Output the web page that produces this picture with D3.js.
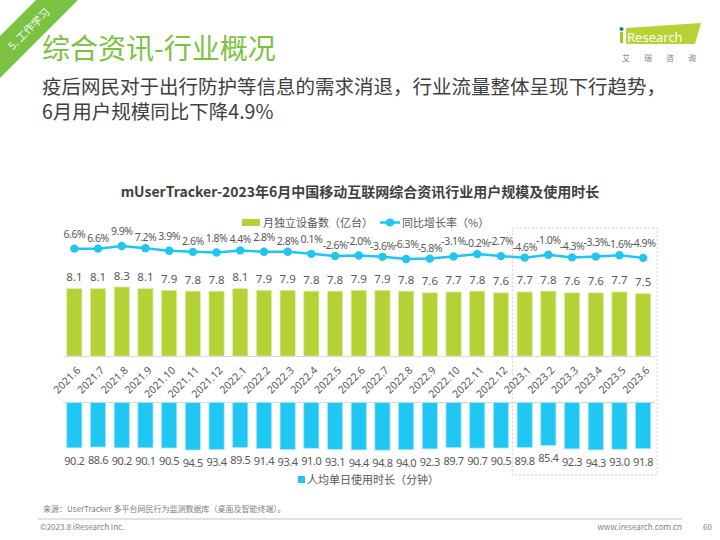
<!DOCTYPE html>
<html><head><meta charset="utf-8">
<script src="https://cdn.jsdelivr.net/npm/d3@7"></script>
<style>
html,body{margin:0;padding:0;background:#fff;}
svg{display:block;font-family:"Noto Sans CJK SC","Noto Sans",sans-serif;}
.num{font-family:"Noto Sans","Open Sans",sans-serif;}
</style></head>
<body><svg id="c" width="720" height="540"></svg>
<script>
const categories = ["2021.6","2021.7","2021.8","2021.9","2021.10","2021.11","2021.12","2022.1","2022.2","2022.3","2022.4","2022.5","2022.6","2022.7","2022.8","2022.9","2022.10","2022.11","2022.12","2023.1","2023.2","2023.3","2023.4","2023.5","2023.6"];
const devices = [8.1,8.1,8.3,8.1,7.9,7.8,7.8,8.1,7.9,7.9,7.8,7.8,7.9,7.9,7.8,7.6,7.7,7.8,7.6,7.7,7.8,7.6,7.6,7.7,7.5];
const growth = [6.6,6.6,9.9,7.2,3.9,2.6,1.8,4.4,2.8,2.8,0.1,-2.6,-2.0,-3.6,-6.3,-5.8,-3.1,-0.2,-2.7,-4.6,-1.0,-4.3,-3.3,-1.6,-4.9];
const duration = [90.2,88.6,90.2,90.1,90.5,94.5,93.4,89.5,91.4,93.4,91.0,93.1,94.4,94.8,94.0,92.3,89.7,90.7,90.5,89.8,85.4,92.3,94.3,93.0,91.8];
const highlight = ["2023.1","2023.6"];

const GREEN = "#b2d235", BLUE = "#1fc7f2", LINE = "#1ec6f0", TXT = "#595959";
const svg = d3.select("#c");

// corner tag
svg.append("polygon").attr("points","36,0 78,0 0,78 0,36").attr("fill","#7cc242");
svg.append("text").attr("transform","translate(29,29) rotate(-45)").attr("text-anchor","middle")
  .attr("dy","0.35em").attr("fill","#fff").attr("font-size",10.5).text("5. 工作学习");

// title + subtitle
svg.append("text").attr("x",42).attr("y",59).attr("fill","#7cc242").attr("font-size",28).text("综合资讯-行业概况");
svg.append("text").attr("x",42).attr("y",94).attr("fill","#404040").attr("font-size",19.5).text("疫后网民对于出行防护等信息的需求消退，行业流量整体呈现下行趋势，");
svg.append("text").attr("x",42).attr("y",119).attr("fill","#404040").attr("font-size",19.5).text("6月用户规模同比下降4.9%");

// logo
svg.append("polygon").attr("points","626,28 701,23 695,44 626,44").attr("fill","#b5d334");
svg.append("circle").attr("cx",621.5).attr("cy",29).attr("r",2).attr("fill","#2a6fb6");
svg.append("rect").attr("x",620).attr("y",32).attr("width",3.2).attr("height",11).attr("fill","#a6c431");
svg.append("text").attr("x",627).attr("y",41.5).attr("fill","#fff").attr("font-size",13).attr("font-family","Noto Sans, sans-serif").text("Research");
svg.append("text").attr("x",622).attr("y",61).attr("fill","#7f7f7f").attr("font-size",8).attr("letter-spacing",14).text("艾瑞咨询");

// chart title
svg.append("text").attr("x",360).attr("y",197).attr("text-anchor","middle").attr("font-weight","bold")
  .attr("fill","#404040").attr("font-size",14).text("mUserTracker-2023年6月中国移动互联网综合资讯行业用户规模及使用时长");

// legends
svg.append("rect").attr("x",242).attr("y",219).attr("width",18).attr("height",7).attr("fill",GREEN);
svg.append("text").attr("x",263).attr("y",226.5).attr("fill",TXT).attr("font-size",11).text("月独立设备数（亿台）");
svg.append("line").attr("x1",380).attr("x2",400).attr("y1",222.5).attr("y2",222.5).attr("stroke",LINE).attr("stroke-width",2.5);
svg.append("circle").attr("cx",390).attr("cy",222.5).attr("r",4).attr("fill",LINE);
svg.append("text").attr("x",402).attr("y",226.5).attr("fill",TXT).attr("font-size",11).text("同比增长率（%）");
svg.append("rect").attr("x",298).attr("y",476).attr("width",7).attr("height",7).attr("fill",BLUE);
svg.append("text").attr("x",307).attr("y",483.5).attr("fill",TXT).attr("font-size",11).text("人均单日使用时长（分钟）");

// scales
const x = d3.scaleBand().domain(categories).range([62.5,655]).paddingInner(0.36).paddingOuter(0.18);
const yG = d3.scaleLinear().domain([0,8.3]).range([356,287]);
const yL = d3.scaleLinear().domain([-6.3,9.9]).range([259,246]);
const yB = d3.scaleLinear().domain([0,94.5]).range([402.5,450]);
const cx = i => x(categories[i]) + x.bandwidth()/2;

// highlight box
const hx0 = x(highlight[0]) - x.step()*x.paddingInner()/2 - 0.5;
const hx1 = x(highlight[1]) + x.bandwidth() + x.step()*x.paddingInner()/2 + 2;
svg.append("rect").attr("x",hx0).attr("y",228).attr("width",hx1-hx0).attr("height",247)
  .attr("fill","none").attr("stroke","#f4bcbc").attr("stroke-width",1).attr("stroke-dasharray","2,2");

// green bars
svg.append("g").selectAll("rect").data(devices).join("rect")
  .attr("x",(d,i)=>x(categories[i])).attr("width",x.bandwidth())
  .attr("y",d=>yG(d)).attr("height",d=>yG(0)-yG(d))
  .attr("fill",GREEN).attr("stroke","#dcebaa").attr("stroke-width",0.8);
svg.append("g").selectAll("text").data(devices).join("text").attr("class","num")
  .attr("x",(d,i)=>cx(i)).attr("y",d=>yG(d)-7.5)
  .attr("text-anchor","middle").attr("fill",TXT).attr("font-size",11.5).text(d=>d.toFixed(1));

// x axis
const xAxis = svg.append("g").attr("transform","translate(0,356)").call(d3.axisBottom(x).tickSize(0).tickPadding(0));
xAxis.select(".domain").attr("stroke","#d9d9d9").attr("stroke-width",1.2);
xAxis.selectAll("text").attr("fill",TXT).attr("font-size",10.5).attr("font-family","Noto Sans, sans-serif")
  .attr("text-anchor","end").attr("dy",null).attr("y",0)
  .attr("transform","translate(7,15) rotate(-45)");

// blue bars
svg.append("line").attr("x1",62.5).attr("x2",655).attr("y1",402.5).attr("y2",402.5).attr("stroke","#d9d9d9").attr("stroke-width",1.2);
svg.append("g").selectAll("rect").data(duration).join("rect")
  .attr("x",(d,i)=>x(categories[i])).attr("width",x.bandwidth())
  .attr("y",yB(0)).attr("height",d=>yB(d)-yB(0))
  .attr("fill",BLUE).attr("stroke","#a9e5f7").attr("stroke-width",0.8);
svg.append("g").selectAll("text").data(duration).join("text").attr("class","num")
  .attr("x",(d,i)=>cx(i)).attr("y",d=>yB(d)+17)
  .attr("text-anchor","middle").attr("fill",TXT).attr("font-size",11).attr("letter-spacing",-0.4).text(d=>d.toFixed(1));

// growth line
const line = d3.line().x((d,i)=>cx(i)).y(d=>yL(d));
svg.append("path").datum(growth).attr("d",line).attr("fill","none").attr("stroke",LINE).attr("stroke-width",2.5);
svg.append("g").selectAll("circle").data(growth).join("circle")
  .attr("cx",(d,i)=>cx(i)).attr("cy",d=>yL(d)).attr("r",4.2).attr("fill",LINE);
svg.append("g").selectAll("text").data(growth).join("text").attr("class","num")
  .attr("x",(d,i)=>cx(i)).attr("y",(d,i)=>yL(d)-(i%2?7:11))
  .attr("text-anchor","middle").attr("fill",TXT).attr("font-size",10.5).attr("letter-spacing",-0.5).text(d=>d.toFixed(1)+"%");

// footer
svg.append("text").attr("x",43).attr("y",512).attr("fill","#7f7f7f").attr("font-size",8).text("来源：UserTracker 多平台网民行为监测数据库（桌面及智能终端）。");
svg.append("line").attr("x1",38).attr("x2",682).attr("y1",519).attr("y2",519).attr("stroke","#d9d9d9").attr("stroke-width",1.5);
svg.append("text").attr("x",40).attr("y",530).attr("fill","#7f7f7f").attr("font-size",8).text("©2023.8 iResearch Inc.");
svg.append("text").attr("x",682).attr("y",530).attr("text-anchor","end").attr("fill","#7f7f7f").attr("font-size",8).text("www.iresearch.com.cn");
svg.append("text").attr("x",703).attr("y",530).attr("fill","#7f7f7f").attr("font-size",8).text("60");
</script></body></html>
